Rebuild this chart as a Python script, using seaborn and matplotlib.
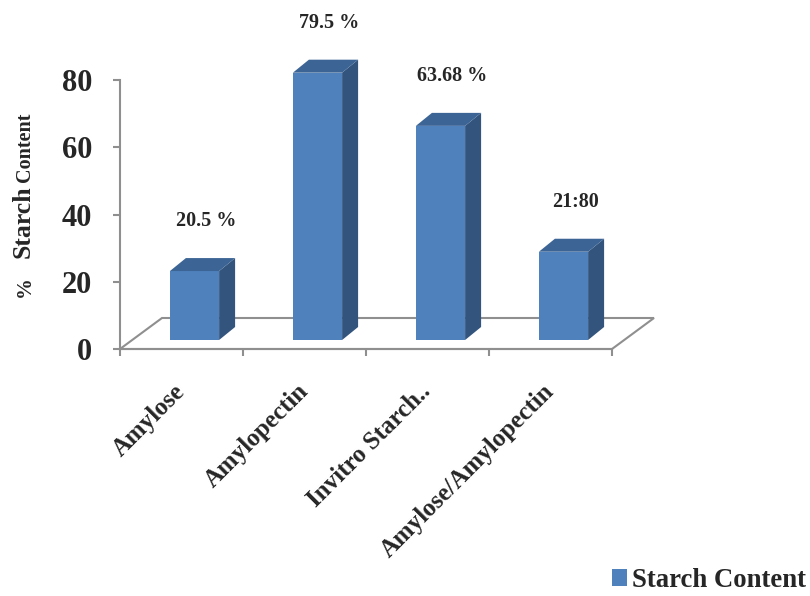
import matplotlib
matplotlib.use("Agg")
import matplotlib.pyplot as plt
import seaborn as sns
from matplotlib.patches import Polygon, Patch

categories = ["Amylose", "Amylopectin", "Invitro Starch..", "Amylose/Amylopectin"]
values = [20.5, 79.5, 63.68, 26.25]
value_labels = ["20.5 %", "79.5 %", "63.68 %", "21:80"]
y_ticks = [0, 20, 40, 60, 80]
series_name = "Starch Content"

FRONT = "#4f81bd"
TOP = "#3c6596"
SIDE = "#33547d"
GRID = "#8f8f8f"

sns.set_style("white")
plt.rcParams["font.family"] = ["Liberation Serif", "DejaVu Serif"]
plt.rcParams["font.weight"] = "bold"

fig = plt.figure(figsize=(8.1, 5.96), dpi=100)
W, H = 810, 596
# axes box in pixels: x axis 120..612, y 0 at 349, 80 at 80
ax = fig.add_axes([120 / W, (H - 349) / H, 492 / W, 269 / H])

sns.barplot(x=categories, y=values, color=FRONT, saturation=1, width=0.4,
            linewidth=0, ax=ax, zorder=3)
ax.set_xlim(-0.5, len(categories) - 0.5)
ax.set_ylim(0, 80)

# pixel -> data unit factors
px_x = 492 / len(categories)
px_y = 269 / 80
shift_x, shift_y = 13 / px_x, 9 / px_y      # bars sit back on the floor
depth_x, depth_y = 16 / px_x, 13 / px_y     # bar depth
floor_x, floor_y = 42 / px_x, 31 / px_y     # floor depth

# floor
x0, x1 = ax.get_xlim()
floor = Polygon([(x0, 0), (x1, 0), (x1 + floor_x, floor_y), (x0 + floor_x, floor_y)],
                closed=True, facecolor="white", edgecolor=GRID, linewidth=1.5,
                clip_on=False, zorder=1)
ax.add_patch(floor)

# 3-D faces for each bar
for i, p in enumerate(list(ax.patches[:len(values)])):
    p.set_x(p.get_x() + shift_x)
    p.set_y(shift_y)
    p.set_clip_on(False)
    bx0, bw, by0, bh = p.get_x(), p.get_width(), p.get_y(), p.get_height()
    bx1, top = bx0 + bw, by0 + bh
    side = Polygon([(bx1, by0), (bx1 + depth_x, by0 + depth_y),
                    (bx1 + depth_x, top + depth_y), (bx1, top)],
                   closed=True, facecolor=SIDE, edgecolor="none", clip_on=False, zorder=3)
    lid = Polygon([(bx0, top), (bx1, top), (bx1 + depth_x, top + depth_y),
                   (bx0 + depth_x, top + depth_y)],
                  closed=True, facecolor=TOP, edgecolor="none", clip_on=False, zorder=3)
    ax.add_patch(side)
    ax.add_patch(lid)
    ax.text(bx0 + (bw + depth_x) / 2 + 0.03, values[i] + 17.5, value_labels[i],
            ha="center", va="center", fontsize=14.5, fontweight="bold", clip_on=False)

# axes styling
for s in ["top", "right"]:
    ax.spines[s].set_visible(False)
for s in ["left", "bottom"]:
    ax.spines[s].set_color(GRID)
    ax.spines[s].set_linewidth(1.5)

ax.set_yticks(y_ticks)
ax.set_yticklabels([str(t) for t in y_ticks])
ax.tick_params(axis="y", direction="out", length=5, width=1.5, color=GRID,
               labelsize=22, pad=15, left=True)
ax.set_xticks(range(len(categories)))
ax.set_xticks([k - 0.5 for k in range(len(categories) + 1)], minor=True)
ax.tick_params(axis="x", which="minor", direction="out", length=5, width=1.5,
               color=GRID, bottom=True)
ax.tick_params(axis="x", which="major", length=0, pad=28, labelsize=18)
ax.set_xticklabels(categories, rotation=45, ha="right", va="center",
                   rotation_mode="anchor", fontweight="bold")
for lbl in ax.get_yticklabels():
    lbl.set_fontweight("bold")
ax.set_xlabel("")
ax.set_ylabel("")

# y axis title with mixed sizes, each piece anchored at its baseline start
title_parts = [("%", 15, 297), ("Starch", 18.5, 258), ("Content", 14.5, 182)]
for txt, size, y_start in title_parts:
    fig.text(30 / W, (H - y_start) / H, txt, rotation=90, fontsize=size,
             fontweight="bold", ha="left", va="baseline", rotation_mode="anchor")

handles = [Patch(facecolor=FRONT, edgecolor="none")]
fig.legend(handles, [series_name], loc="lower right", bbox_to_anchor=(806 / W, 3 / H),
           frameon=False, handlelength=0.55, handleheight=0.55,
           handletextpad=0.2, borderpad=0, borderaxespad=0,
           prop={"weight": "bold", "size": 19.3})

fig.savefig("out.png", dpi=100)
